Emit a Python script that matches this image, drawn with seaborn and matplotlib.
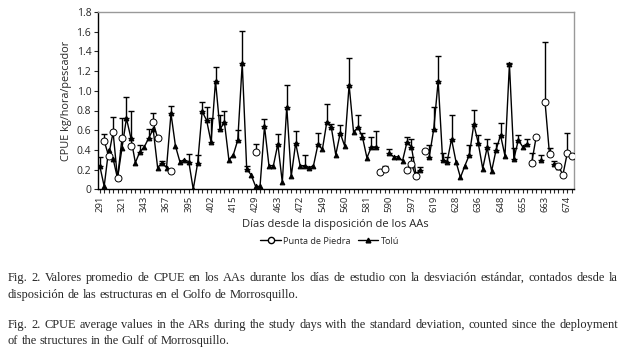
import numpy as np
import pandas as pd
import matplotlib
matplotlib.use('Agg')
import matplotlib.pyplot as plt
from matplotlib.lines import Line2D
import seaborn as sns

nan = np.nan

# day labels shown under every 5th sampling day
day_labels = [291, 321, 343, 367, 395, 402, 415, 429, 463, 472, 549,
              560, 581, 590, 597, 619, 628, 636, 648, 655, 663, 674]

tolu = [0.24, 0.03, 0.40, 0.31, 0.11, 0.42, 0.72, 0.52, 0.27, 0.38,
        0.43, 0.52, 0.61, 0.22, 0.27, 0.22, 0.77, 0.44, 0.28, 0.30,
        0.28, 0.00, 0.27, 0.79, 0.70, 0.48, 1.10, 0.61, 0.68, 0.30,
        0.35, 0.50, 1.28, 0.21, 0.145, 0.03, 0.03, 0.64, 0.24, 0.24,
        0.46, 0.07, 0.84, 0.13, 0.47, 0.24, 0.24, 0.22, 0.24, 0.455,
        0.405, 0.685, 0.63, 0.35, 0.57, 0.44, 1.06, 0.58, 0.63, 0.53,
        0.32, 0.43, 0.43, nan, nan, 0.37, 0.33, 0.33, 0.29, 0.48,
        0.43, 0.155, 0.20, nan, 0.33, 0.61, 1.10, 0.30, 0.28, 0.51,
        0.28, 0.12, 0.24, 0.35, 0.66, 0.47, 0.21, 0.425, 0.185, 0.40,
        0.55, 0.34, 1.27, 0.31, 0.50, 0.43, 0.46, nan, nan, 0.30,
        nan, nan, 0.26, 0.23, nan, nan, nan]

tolu_top = [0.33, nan, nan, nan, nan, nan, 0.94, 0.79, nan, 0.45,
            nan, 0.61, nan, nan, 0.29, nan, 0.85, nan, nan, nan,
            0.36, nan, 0.35, 0.89, 0.84, 0.72, 1.24, 0.75, 0.80, nan,
            nan, 0.60, 1.61, 0.24, nan, nan, nan, 0.71, nan, nan,
            0.56, nan, 1.06, nan, 0.59, nan, 0.35, nan, nan, 0.57,
            nan, 0.87, 0.66, nan, 0.65, nan, 1.33, nan, 0.75, 0.57,
            nan, 0.53, 0.59, nan, nan, 0.41, nan, nan, nan, 0.53,
            0.51, nan, 0.23, nan, 0.45, 0.84, 1.35, 0.37, 0.33, 0.75,
            nan, nan, nan, 0.45, 0.81, 0.55, nan, 0.51, nan, 0.47,
            0.675, nan, 1.28, 0.415, 0.55, nan, 0.51, nan, nan, 0.345,
            nan, nan, 0.29, nan, nan, nan, nan]

punta = {1: 0.49, 2: 0.34, 3: 0.58, 4: 0.11, 5: 0.52, 7: 0.44, 12: 0.68,
         13: 0.52, 16: 0.19, 35: 0.375, 63: 0.18, 64: 0.205, 69: 0.20,
         70: 0.26, 71: 0.13, 73: 0.39, 97: 0.27, 98: 0.53, 100: 0.885,
         101: 0.355, 103: 0.24, 104: 0.145, 105: 0.37, 106: 0.34}
punta_top = {1: 0.56, 3: 0.73, 5: 0.72, 12: 0.77, 35: 0.455, 64: 0.24,
             70: 0.33, 97: 0.37, 100: 1.50, 101: 0.42, 105: 0.57}

n = len(tolu)
idx = np.arange(n)
punta_vals = np.array([punta.get(i, nan) for i in idx])
punta_err = np.array([punta_top.get(i, nan) for i in idx])


def segments(vals):
    # run id for each contiguous block of values, so gaps break the line
    s = pd.Series(vals)
    return s.isna().cumsum()


df_t = pd.DataFrame({'dia': idx, 'cpue': tolu, 'top': tolu_top})
df_t['seg'] = segments(tolu)
df_p = pd.DataFrame({'dia': idx, 'cpue': punta_vals, 'top': punta_err})
df_p['seg'] = segments(punta_vals)

sns.set_style('ticks')
plt.rcParams['font.family'] = ['Open Sans', 'DejaVu Sans']

fig = plt.figure(figsize=(6.26, 3.54), dpi=100)
ax = fig.add_axes([97.5 / 626, 1 - 189.3 / 354, (574 - 97.5) / 626, (189.3 - 12) / 354])

for d in (df_t, df_p):
    e = d.dropna(subset=['top'])
    ax.errorbar(e['dia'], e['cpue'], yerr=[np.zeros(len(e)), e['top'] - e['cpue']],
                fmt='none', ecolor='black', elinewidth=1.0, capsize=2.4, capthick=1.0, zorder=2)

sns.lineplot(data=df_t.dropna(subset=['cpue']), x='dia', y='cpue', units='seg', estimator=None,
             color='black', lw=1.0, marker='^', markersize=3.4, markeredgecolor='black',
             markerfacecolor='black', ax=ax, zorder=3)
sns.lineplot(data=df_p.dropna(subset=['cpue']), x='dia', y='cpue', units='seg', estimator=None,
             color='black', lw=1.0, marker='o', markersize=5.0, markeredgecolor='black',
             markeredgewidth=0.7, markerfacecolor='white', ax=ax, zorder=4)

ax.set_xlim(-0.5, n - 0.5)
ax.set_ylim(0, 1.8)
ax.set_yticks(np.arange(0, 1.81, 0.2))
ax.set_yticklabels(['0'] + ['%.1f' % v for v in np.arange(0.2, 1.81, 0.2)], fontsize=7.5)
ax.set_xticks(np.arange(0, 5 * len(day_labels), 5))
ax.set_xticklabels(day_labels, rotation=90, fontsize=6.8)
ax.set_xticks(idx, minor=True)
ax.tick_params(axis='both', which='both', direction='out', length=3, width=0.8, pad=1.5)
ax.set_xlabel('Días desde la disposición de los AAs', fontsize=8.0, labelpad=5)
ax.set_ylabel('CPUE kg/hora/pescador', fontsize=7.8, labelpad=3)

for side in ('left', 'bottom'):
    ax.spines[side].set_color('black')
    ax.spines[side].set_linewidth(1.0)
for side in ('top', 'right'):
    ax.spines[side].set_visible(True)
    ax.spines[side].set_color('#999999')
    ax.spines[side].set_linewidth(1.0)

handles = [Line2D([], [], color='black', lw=1, marker='o', markersize=4.5,
                  markerfacecolor='white', markeredgecolor='black', label='Punta de Piedra'),
           Line2D([], [], color='black', lw=1, marker='^', markersize=3.4,
                  markerfacecolor='black', label='Tolú')]
fig.legend(handles=handles, loc='center', bbox_to_anchor=(330 / 626, 1 - 241 / 354), ncol=2,
           frameon=False, fontsize=6.6, handlelength=2.2, handletextpad=0.3, columnspacing=0.8)

# caption below the chart, justified by hand
caption = [
    ('Fig. 2. Valores promedio de CPUE en los AAs durante los días de estudio con la desviación estándar, contados desde la', 278, False),
    ('disposición de las estructuras en el Golfo de Morrosquillo.', 295, True),
    ('Fig. 2. CPUE average values in the ARs during the study days with the standard deviation, counted since the deployment', 325, False),
    ('of the structures in the Gulf of Morrosquillo.', 341, True),
]
renderer = fig.canvas.get_renderer()
x0, x1 = 8, 618
for line, ypx, last in caption:
    words = line.split()
    arts = [fig.text(0, 1 - ypx / 354, w, fontsize=8.9, family='Liberation Serif',
                     va='center', ha='left') for w in words]
    widths = [a.get_window_extent(renderer).width for a in arts]
    if last:
        gap = 3.0
    else:
        gap = max(2.0, (x1 - x0 - sum(widths)) / (len(words) - 1))
    x = x0
    for a, w in zip(arts, widths):
        a.set_x(x / 626)
        x += w + gap

fig.savefig('out.png', dpi=100)
